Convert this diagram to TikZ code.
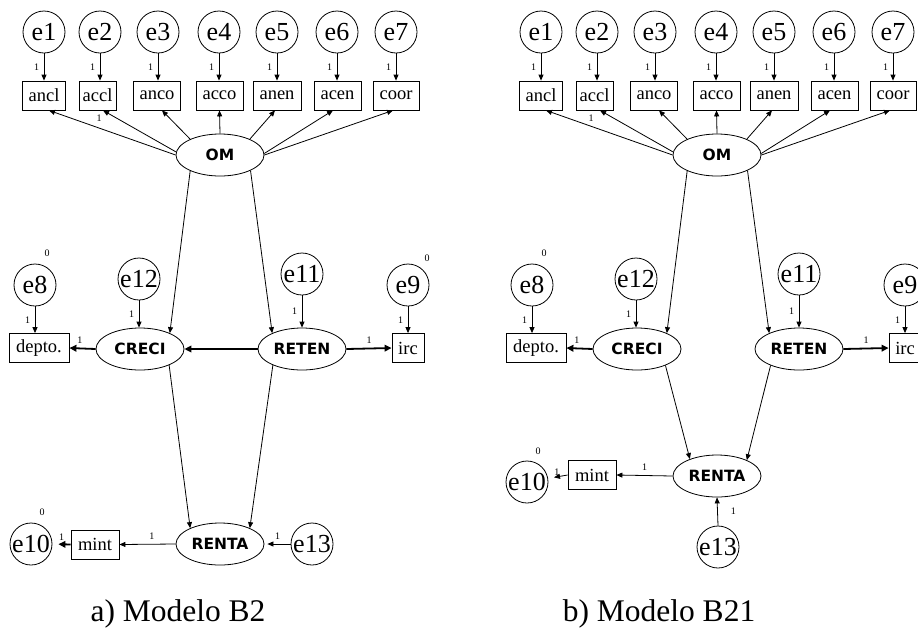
\documentclass[tikz,border=0pt]{standalone}
\usepackage{fontspec}
\setmainfont{Liberation Serif}
\newfontfamily\lvsans{DejaVu Sans}
\usetikzlibrary{arrows.meta,shapes.geometric}
% circle labels keep their circle size even when the text is wide
\newcommand\cname[1]{\makebox[0pt]{#1}}

\tikzset{
  errvar/.style={circle,draw,line width=0.8pt,minimum size=42pt,inner sep=0pt,
    font=\fontsize{26}{26}\selectfont},
  obsvar/.style={rectangle,draw,line width=0.8pt,minimum height=29pt,inner sep=0pt,
    font=\fontsize{18.5}{18.5}\selectfont},
  latvar/.style={ellipse,draw,line width=0.8pt,minimum width=88pt,minimum height=42pt,
    inner sep=0pt,font=\lvsans\bfseries\fontsize{15.5}{15.5}\selectfont},
  reg/.style={-{Triangle[length=6pt,width=5pt]},line width=0.8pt},
  regthick/.style={-{Triangle[length=7pt,width=6.5pt]},line width=1.8pt},
  coef/.style={font=\fontsize{10}{10}\selectfont,inner sep=0pt},
  captext/.style={font=\fontsize{31.5}{31.5}\selectfont,anchor=base}
}

\begin{document}
\begin{tikzpicture}[x=1pt,y=-1pt]
\useasboundingbox (0,0) rectangle (918,630);

% parts shared by both models
\foreach \p/\dx in {a/0,b/497}{
  \begin{scope}[xshift=\dx pt]
    \node[latvar] (\p-OM) at (220,155) {OM};
    % indicators of OM with their error terms
    \foreach \i/\n/\ex/\bx/\bw/\sh/\sa in {
        1/ancl/44/44/43/5/180, 2/accl/100/97.5/37/5.5/176,
        3/anco/158/157/47/5/152, 4/acco/219/219.5/47/0/90,
        5/anen/277/277/48/-2/28, 6/acen/337/337.5/47/-4.5/2,
        7/coor/396/396/46/-3/0}{
      \node[errvar] (\p-e\i) at (\ex,32) {\cname{e\i}};
      \node[obsvar,minimum width=\bw pt] (\p-\n) at (\bx,95.5) {\n};
      \draw[reg] (\p-e\i.south) -- (\p-e\i.south |- \p-\n.north)
        node[coef,midway,left=4.5pt] {1};
      \draw[reg] (\p-OM.\sa) -- ([xshift=\sh pt]\p-\n.south);
    }
    % growth and retention constructs
    \node[latvar] (\p-CRECI) at (140,349) {CRECI};
    \node[latvar] (\p-RETEN) at (302,349) {RETEN};
    \node[obsvar,minimum width=60pt] (\p-depto) at (39,348) {depto.};
    \node[obsvar,minimum width=32pt] (\p-irc) at (408,348) {irc};
    \node[errvar] (\p-e8) at (35,285) {\cname{e8}};
    \node[errvar] (\p-e12) at (139,279) {\cname{e12}};
    \node[errvar] (\p-e11) at (302,274) {\cname{e11}};
    \node[errvar] (\p-e9) at (408,285) {\cname{e9}};
    \node[coef] (\p-v8) at ([shift={(12,-32)}]\p-e8.center) {0};

    \draw[reg] (\p-OM.208) -- (\p-CRECI.28);
    \draw[reg] (\p-OM.333) -- (\p-RETEN.152);
    \draw[reg] (\p-e8.south) -- (\p-e8.south |- \p-depto.north)
      node[coef,midway,left=4.5pt] {1};
    \draw[reg] (\p-e12.south) -- (\p-e12.south |- \p-CRECI.north)
      node[coef,midway,left=4.5pt] {1};
    \draw[reg] (\p-e11.south) -- (\p-RETEN.north)
      node[coef,midway,left=4.5pt] {1};
    \draw[reg] (\p-e9.south) -- (\p-irc.north)
      node[coef,midway,left=4.5pt] {1};
    \draw[regthick] (\p-CRECI.west) -- (\p-depto.east)
      node[coef,pos=0.6,above=4.5pt] {1};
    \draw[regthick] (\p-RETEN.east) -- (\p-irc.west)
      node[coef,midway,above=4.5pt] {1};
  \end{scope}
}

\node[coef] (a-l2) at (99,118) {1};
\node[coef] (b-l2) at (591,118) {1};
\node[coef] (a-v9) at (427,258) {0};

% a) Modelo B2
\draw[regthick] (a-RETEN.west) -- (a-CRECI.east);
\node[latvar] (a-RENTA) at (220,544) {RENTA};
\node[obsvar,minimum width=48pt] (a-mint) at (95,544.5) {mint};
\node[errvar] (a-e10) at (31,544) {\cname{e10}};
\node[errvar] (a-e13) at (312,544) {\cname{e13}};
\node[coef] (a-v10) at (42,512) {0};
\draw[reg] (a-CRECI.331) -- (a-RENTA.152);
\draw[reg] (a-RETEN.209) -- (a-RENTA.28);
\draw[reg] (a-RENTA.west) -- (a-mint.east) node[coef,pos=0.42,above=4.5pt] {1};
\draw[regthick,shorten >=6pt] (a-mint.west) -- (a-e10.east)
  node[coef,pos=0.5,above=3pt] {1};
\draw[reg,shorten >=3pt] (a-e13.west) -- (a-RENTA.east)
  node[coef,midway,above=4.5pt] {1};
\node[captext] (a-cap) at (178,621) {a) Modelo B2};

% b) Modelo B21
\node[latvar] (b-RENTA) at (717,476) {RENTA};
\node[obsvar,minimum width=48pt] (b-mint) at (592,475) {mint};
\node[errvar] (b-e10) at (527,482) {\cname{e10}};
\node[errvar] (b-e13) at (718,547) {\cname{e13}};
\node[coef] (b-v10) at (538,451) {0};
\draw[reg] (b-CRECI.330) -- (b-RENTA.148);
\draw[reg] (b-RETEN.210) -- (b-RENTA.28);
\draw[reg] (b-RENTA.west) -- (b-mint.east) node[coef,midway,above=5pt] {1};
\draw[reg,shorten >=6pt] (b-mint.west) -- (b-e10)
  node[coef,pos=0.55,above=1pt] {1};
\draw[reg] (b-e13.north) -- (b-RENTA.south) node[coef,midway,right=13pt] {1};
\node[captext] (b-cap) at (659,621) {b) Modelo B21};
\end{tikzpicture}
\end{document}
